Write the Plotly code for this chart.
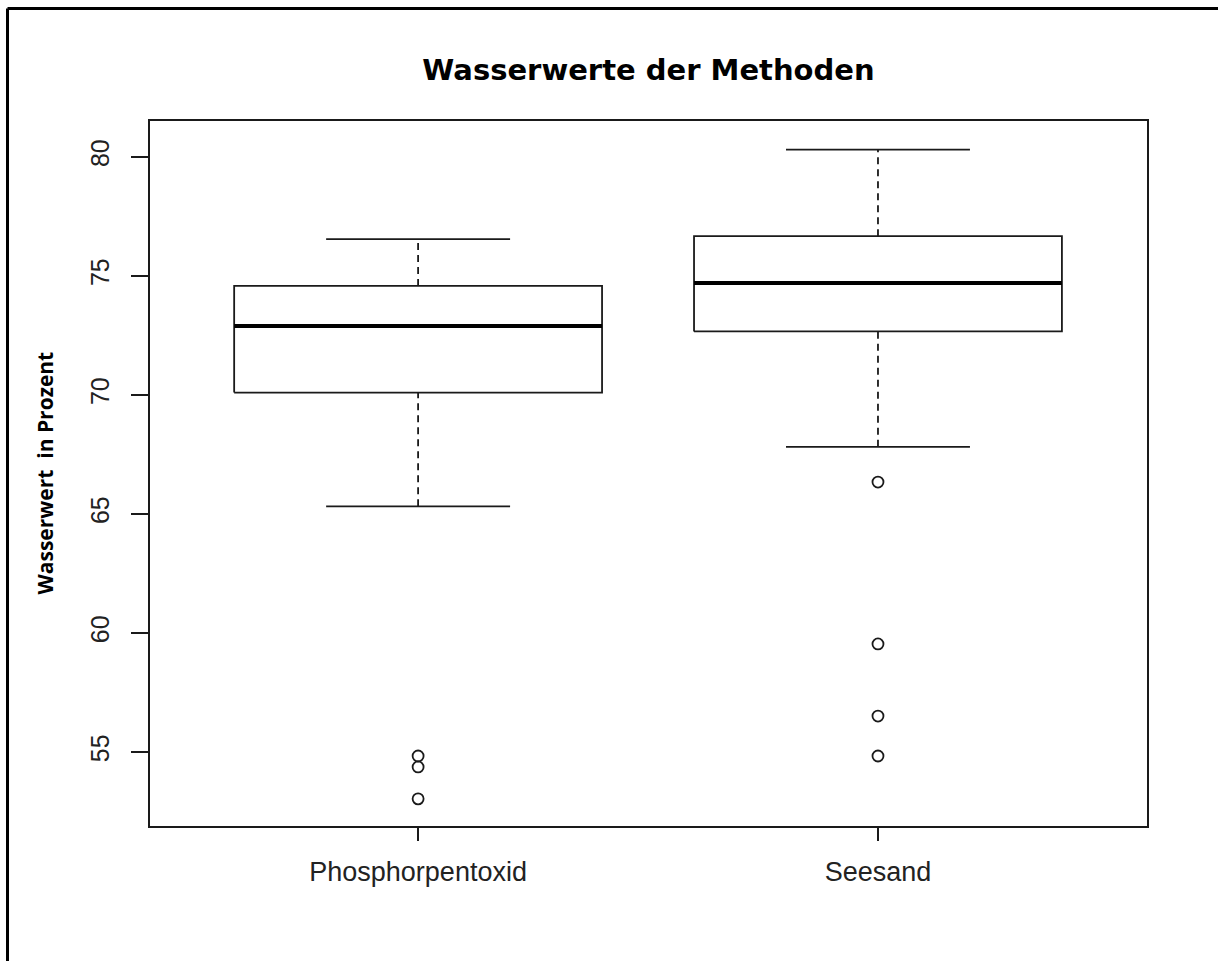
import plotly.graph_objects as go

# Summary statistics per method (water content in percent)
categories = ["Phosphorpentoxid", "Seesand"]
positions = [1, 2]
q1 = [70.10, 72.67]
median = [72.90, 74.70]
q3 = [74.58, 76.67]
whisker_low = [65.32, 67.82]
whisker_high = [76.55, 80.31]
outliers = [
    [54.83, 54.37, 53.03],
    [66.34, 59.54, 56.51, 54.83],
]
y_ticks = [55, 60, 65, 70, 75, 80]

BOX_HALF = 0.40     # half box width in x units (boxwex 0.8)
CAP_HALF = 0.20     # half staple width
LINE = "#1a1a1a"
LW = 1.8

fig = go.Figure()

for i, pos in enumerate(positions):
    # box outline
    fig.add_trace(go.Scatter(
        x=[pos - BOX_HALF, pos + BOX_HALF, pos + BOX_HALF, pos - BOX_HALF, pos - BOX_HALF],
        y=[q1[i], q1[i], q3[i], q3[i], q1[i]],
        mode="lines", line=dict(color=LINE, width=LW),
        hoverinfo="skip", showlegend=False))
    # median
    fig.add_trace(go.Scatter(
        x=[pos - BOX_HALF, pos + BOX_HALF], y=[median[i], median[i]],
        mode="lines", line=dict(color="black", width=4),
        hoverinfo="skip", showlegend=False))
    # dashed whiskers
    for a, b in ((whisker_low[i], q1[i]), (q3[i], whisker_high[i])):
        fig.add_trace(go.Scatter(
            x=[pos, pos], y=[a, b], mode="lines",
            line=dict(color=LINE, width=LW, dash="7px,5px"),
            hoverinfo="skip", showlegend=False))
    # staples
    for w in (whisker_low[i], whisker_high[i]):
        fig.add_trace(go.Scatter(
            x=[pos - CAP_HALF, pos + CAP_HALF], y=[w, w], mode="lines",
            line=dict(color=LINE, width=LW),
            hoverinfo="skip", showlegend=False))
    # outliers
    fig.add_trace(go.Scatter(
        x=[pos] * len(outliers[i]), y=outliers[i], mode="markers",
        marker=dict(symbol="circle-open", size=11, color=LINE,
                    line=dict(width=1.8)),
        hoverinfo="skip", showlegend=False))

fig.update_layout(
    width=1218, height=961,
    margin=dict(l=150, r=71, t=121, b=135),
    paper_bgcolor="white", plot_bgcolor="white",
    showlegend=False,
    title=dict(text="<b>Wasserwerte der Methoden</b>",
               font=dict(family="DejaVu Sans", size=29, color="black"),
               x=(150 + 1147) / 2 / 1218, xanchor="center",
               y=1 - 70 / 961, yanchor="middle"),
    xaxis=dict(range=[0.417, 2.585], tickvals=positions, ticktext=categories,
               showgrid=False, zeroline=False,
               showline=True, mirror=True, linecolor=LINE, linewidth=LW,
               ticks="outside", ticklen=13, tickwidth=LW, tickcolor=LINE,
               tickfont=dict(family="Liberation Sans", size=27, color="#222222"),
               ticklabelstandoff=8),
    yaxis=dict(range=[51.89, 81.51], tickvals=y_ticks,
               showgrid=False, zeroline=False,
               showline=True, mirror=True, linecolor=LINE, linewidth=LW,
               ticks="outside", ticklen=17, tickwidth=LW, tickcolor=LINE,
               tickangle=-90,
               tickfont=dict(family="Liberation Sans", size=25, color="#222222"),
               ticklabelstandoff=12),
    annotations=[dict(
        text="<b>Wasserwert  in Prozent</b>",
        xref="paper", yref="paper", x=0, y=0.5, xshift=-106,
        xanchor="center", yanchor="middle", textangle=-90, showarrow=False,
        font=dict(family="Open Sans", size=21, color="black"))],
    shapes=[
        # frame along the top and left edges of the figure
        dict(type="line", xref="paper", yref="paper",
             x0=(7.5 - 150) / 997, x1=1.1, y0=1 + (121 - 8.5) / 705, y1=1 + (121 - 8.5) / 705,
             line=dict(color="black", width=3)),
        dict(type="line", xref="paper", yref="paper",
             x0=(7.5 - 150) / 997, x1=(7.5 - 150) / 997, y0=-0.3, y1=1 + (121 - 8.5) / 705,
             line=dict(color="black", width=3)),
    ],
)

fig.write_html("out.html")
